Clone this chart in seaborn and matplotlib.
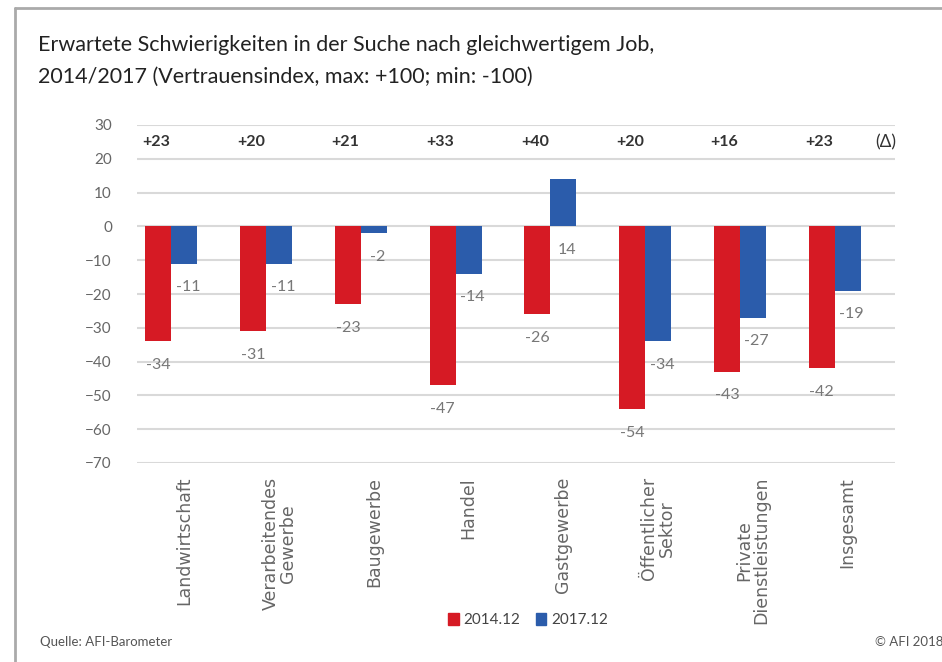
import numpy as np
import pandas as pd
import matplotlib.pyplot as plt
import seaborn as sns
from matplotlib.patches import Patch

# Data
categories = ["Landwirtschaft", "Verarbeitendes\nGewerbe", "Baugewerbe", "Handel",
              "Gastgewerbe", "Öffentlicher\nSektor", "Private\nDienstleistungen", "Insgesamt"]
values_2014 = [-34, -31, -23, -47, -26, -54, -43, -42]
values_2017 = [-11, -11, -2, -14, 14, -34, -27, -19]
deltas = ["+23", "+20", "+21", "+33", "+40", "+20", "+16", "+23"]
series = ["2014.12", "2017.12", "Δ"]

RED = "#d61a24"
BLUE = "#2b5cab"
GRID = "#d9d9d9"
TXT = "#666666"

# long table; third (invisible) series only reserves the slot, like the Excel source
df = pd.DataFrame({
    "Kategorie": categories * 3,
    "Serie": [series[0]] * 8 + [series[1]] * 8 + [series[2]] * 8,
    "Wert": values_2014 + values_2017 + [0] * 8,
})

sns.set_style("white")
plt.rcParams["font.family"] = ["Lato", "DejaVu Sans"]

fig = plt.figure(figsize=(9.42, 6.62), dpi=100)
ax = fig.add_axes([137 / 942, 1 - 463 / 662, (895 - 137) / 942, (463 - 125) / 662])

sns.barplot(data=df, x="Kategorie", y="Wert", hue="Serie", hue_order=series,
            palette={series[0]: RED, series[1]: BLUE, series[2]: "white"},
            width=0.823, dodge=True, linewidth=0, saturation=1, legend=False, ax=ax)

ax.set_ylim(-70, 30)
ax.set_xlim(-0.5, 7.5)
ax.set_yticks(np.arange(-70, 31, 10))
ax.yaxis.grid(True, color=GRID, linewidth=1.5)
ax.set_axisbelow(True)
for s in ax.spines.values():
    s.set_visible(False)
ax.set_xlabel("")
ax.set_ylabel("")
ax.tick_params(axis="y", length=0, labelsize=11, labelcolor=TXT, pad=18)
ax.tick_params(axis="x", length=0, pad=10)
ax.set_xticks(range(len(categories)))
ax.set_xticklabels(categories, rotation=90, va="top", ha="center",
                   family="DejaVu Sans", fontsize=12.5, color=TXT, linespacing=0.95)

# value labels under the bars
containers = ax.containers
for cont, vals in zip(containers[:2], [values_2014, values_2017]):
    for bar, v in zip(cont, vals):
        x = bar.get_x() + bar.get_width() / 2 + (0 if cont is containers[0] else 0.04)
        ax.annotate(f"{v}", (x, min(v, 0)), xytext=(0, -12), textcoords="offset points",
                    ha="center", va="top", fontsize=11.5, color="#777777")

# delta row
for i, d in enumerate(deltas):
    ax.text(i - 0.3, 25, d, ha="center", va="center", fontsize=11.5,
            fontweight="bold", color="#333333")
ax.text(7.4, 25, "(Δ)", ha="center", va="center", fontsize=12.5, color="#333333")

# title and footer
fig.text(38 / 942, 1 - 45 / 662, "Erwartete Schwierigkeiten in der Suche nach gleichwertigem Job,",
         fontsize=15.5, color="#222222", va="center")
fig.text(38 / 942, 1 - 77 / 662, "2014/2017 (Vertrauensindex, max: +100; min: -100)",
         fontsize=15.5, color="#222222", va="center")
fig.text(40 / 942, 1 - 642 / 662, "Quelle: AFI-Barometer", fontsize=9.5, color="#555555", va="center")
fig.text(875 / 942, 1 - 642 / 662, "© AFI 2018", fontsize=9.5, color="#555555", va="center")

handles = [Patch(color=RED, label=series[0]), Patch(color=BLUE, label=series[1])]
fig.legend(handles=handles, loc="center", bbox_to_anchor=(528 / 942, 1 - 620 / 662), ncol=2,
           frameon=False, fontsize=11, handlelength=0.7, handleheight=0.9,
           handletextpad=0.3, columnspacing=1.0, labelcolor="#444444")

# outer frame
fig.add_artist(plt.Line2D([15 / 942, 15 / 942], [0, 1 - 8 / 662], transform=fig.transFigure,
                          color="#aaaaaa", linewidth=2))
fig.add_artist(plt.Line2D([15 / 942, 1], [1 - 8 / 662, 1 - 8 / 662], transform=fig.transFigure,
                          color="#aaaaaa", linewidth=2))

fig.savefig("out.png", dpi=100)
